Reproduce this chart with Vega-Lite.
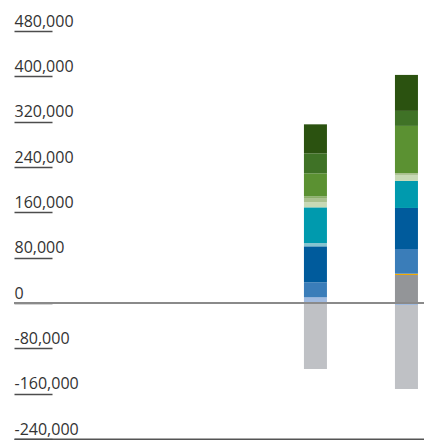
{
  "$schema": "https://vega.github.io/schema/vega-lite/v6.json",
  "width": 410,
  "height": 408,
  "autosize": {"type": "none"},
  "padding": {"left": 14, "top": 31, "right": 0, "bottom": 1},
  "config": {"view": {"stroke": null}, "font": "Open Sans"},
  "layer": [
    {
      "data": {
        "values": [
          {"cat": "A", "series": "S01", "ord": 1, "value": 10000},
          {"cat": "A", "series": "S04", "ord": 4, "value": 26500},
          {"cat": "A", "series": "S05", "ord": 5, "value": 63500},
          {"cat": "A", "series": "S06", "ord": 6, "value": 5800},
          {"cat": "A", "series": "S07", "ord": 7, "value": 63000},
          {"cat": "A", "series": "S08", "ord": 8, "value": 8800},
          {"cat": "A", "series": "S09", "ord": 9, "value": 7600},
          {"cat": "A", "series": "S10", "ord": 10, "value": 3000},
          {"cat": "A", "series": "S11", "ord": 11, "value": 40600},
          {"cat": "A", "series": "S12", "ord": 12, "value": 35300},
          {"cat": "A", "series": "S13", "ord": 13, "value": 51200},
          {"cat": "A", "series": "S14", "ord": 14, "value": -116500},
          {"cat": "B", "series": "S01", "ord": 1, "value": -3500},
          {"cat": "B", "series": "S02", "ord": 2, "value": 49400},
          {"cat": "B", "series": "S03", "ord": 3, "value": 2300},
          {"cat": "B", "series": "S04", "ord": 4, "value": 43600},
          {"cat": "B", "series": "S05", "ord": 5, "value": 72400},
          {"cat": "B", "series": "S07", "ord": 7, "value": 47700},
          {"cat": "B", "series": "S08", "ord": 8, "value": 10600},
          {"cat": "B", "series": "S09", "ord": 9, "value": 3500},
          {"cat": "B", "series": "S11", "ord": 11, "value": 83000},
          {"cat": "B", "series": "S12", "ord": 12, "value": 26500},
          {"cat": "B", "series": "S13", "ord": 13, "value": 63500},
          {"cat": "B", "series": "S14", "ord": 14, "value": -148300}
        ]
      },
      "mark": {"type": "bar"},
      "encoding": {
        "x": {
          "field": "cat",
          "type": "nominal",
          "scale": {"domain": ["Y", "Z", "A", "B"], "paddingInner": 0.74725, "paddingOuter": 0.626, "align": 0.947, "round": false},
          "axis": {"title": null, "labels": false, "ticks": false, "grid": false, "domain": true, "domainColor": "#555555", "domainWidth": 2}
        },
        "y": {
          "field": "value",
          "type": "quantitative",
          "stack": "zero",
          "scale": {"domain": [-240000, 480000], "nice": false},
          "axis": {
            "title": null,
            "values": [-240000, -160000, -80000, 0, 80000, 160000, 240000, 320000, 400000, 480000],
            "format": ",d",
            "labelExpr": "replace(datum.label, '\u2212', '-')",
            "grid": false,
            "domain": false,
            "tickSize": -38,
            "tickColor": "#4d4d4d",
            "tickWidth": 1.5,
            "labelAlign": "left",
            "labelPadding": 38,
            "labelBaseline": "alphabetic",
            "labelOffset": -5,
            "labelFontSize": 16,
            "labelColor": "#333333",
            "labelFont": "Open Sans"
          }
        },
        "color": {
          "field": "series",
          "type": "nominal",
          "scale": {
            "domain": ["S01", "S02", "S03", "S04", "S05", "S06", "S07", "S08", "S09", "S10", "S11", "S12", "S13", "S14"],
            "range": ["#a0badf", "#939598", "#f2a900", "#3a7db9", "#005b9c", "#86c3cf", "#009aae", "#c7d9b5", "#a9c08e", "#8caf6a", "#5b9132", "#3f7226", "#2b5210", "#bfc1c5"]
          },
          "legend": null
        },
        "order": {"field": "ord", "type": "quantitative"}
      }
    },
    {
      "data": {"values": [{"value": 0}]},
      "mark": {"type": "rule", "color": "#8a8a8a", "strokeWidth": 2},
      "encoding": {"y": {"field": "value", "type": "quantitative"}}
    }
  ]
}
